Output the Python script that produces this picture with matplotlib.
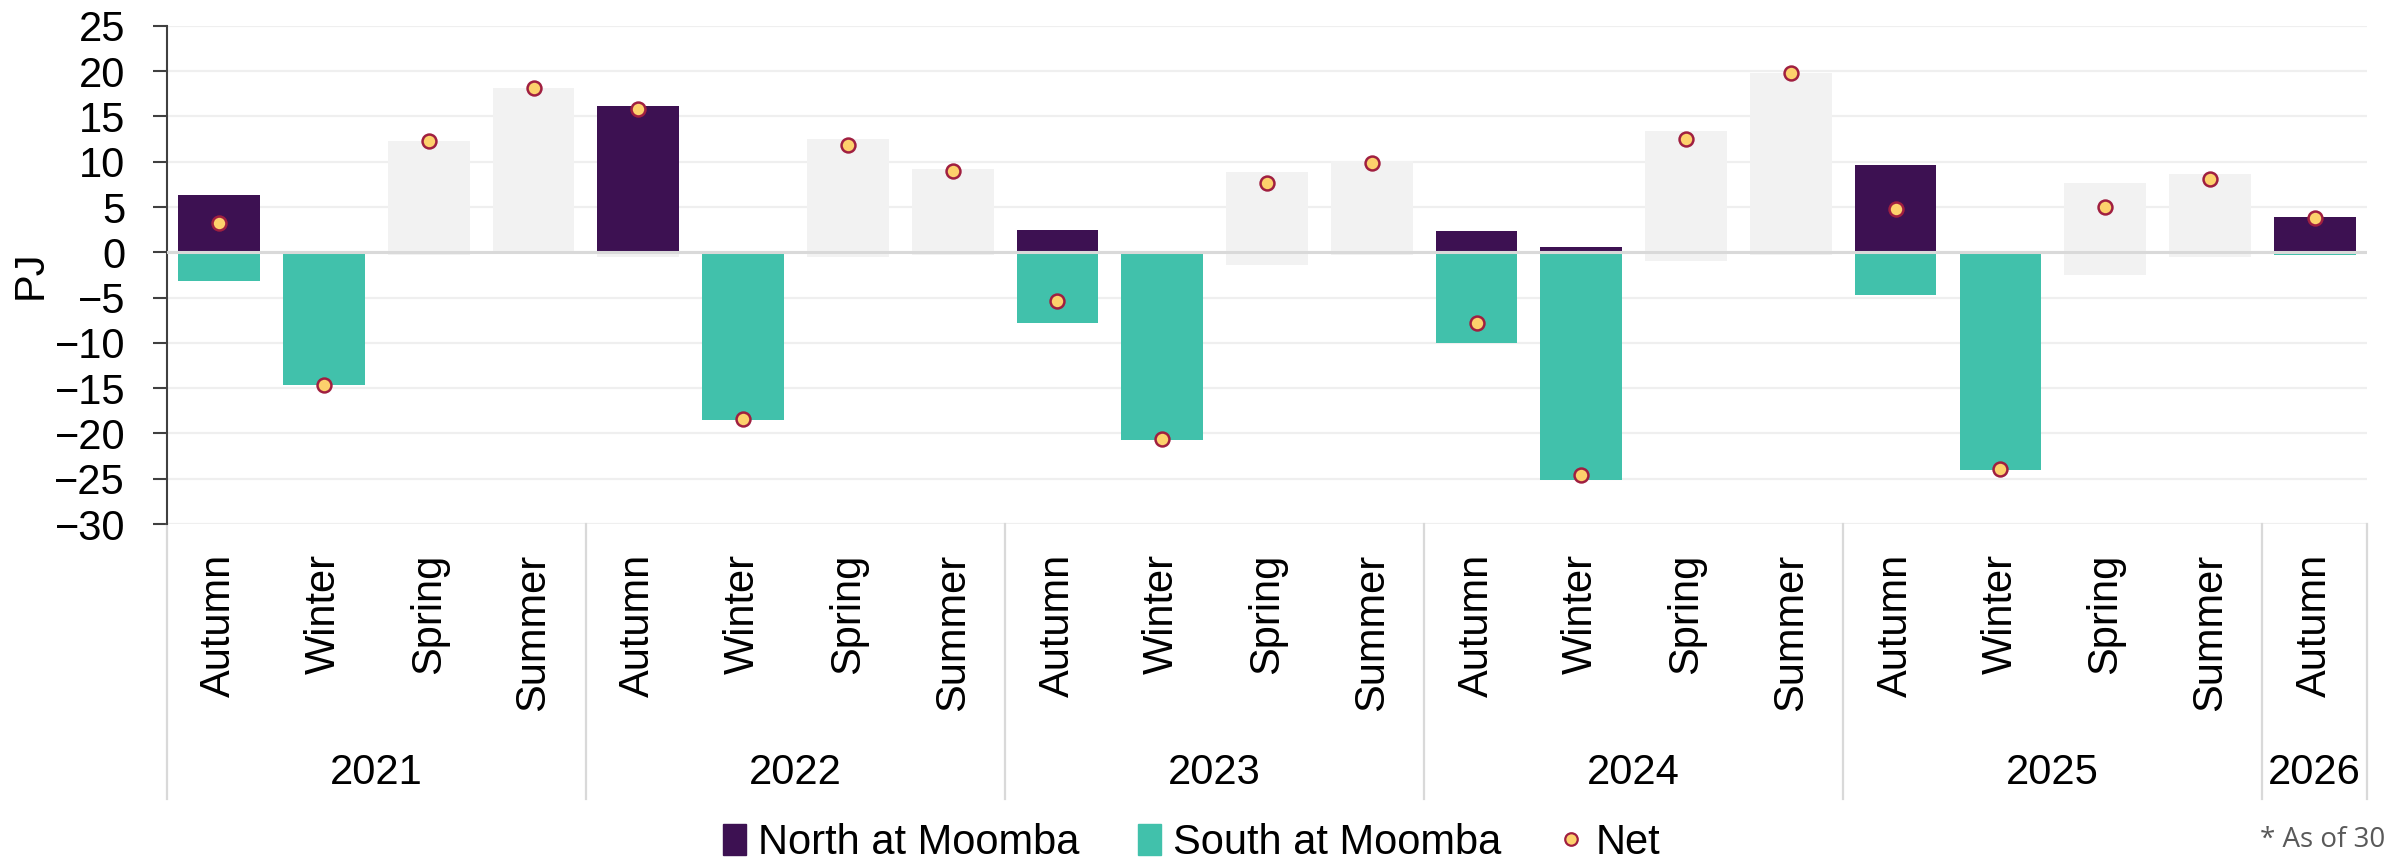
import matplotlib.pyplot as plt
from matplotlib.patches import Patch
from matplotlib.lines import Line2D
from matplotlib.transforms import blended_transform_factory

plt.rcParams["font.family"] = ["Liberation Sans", "DejaVu Sans"]

# seasonal flows at Moomba (PJ)
years        = ["2021", "2022", "2023", "2024", "2025", "2026"]
year_seasons = [4, 4, 4, 4, 4, 1]
seasons      = ["Autumn", "Winter", "Spring", "Summer"] * 5 + ["Autumn"]

north = [6.3, 0.0, 12.3, 18.2,
         16.2, 0.0, 12.5, 9.15,
         2.5, 0.0, 8.9, 10.05,
         2.3, 0.55, 13.35, 19.85,
         9.6, 0.0, 7.6, 8.7,
         3.85]
south = [-3.2, -14.7, -0.35, 0.0,
         -0.5, -18.5, -0.5, -0.35,
         -7.85, -20.7, -1.4, -0.35,
         -10.05, -25.1, -1.0, -0.35,
         -4.75, -24.0, -2.55, -0.55,
         -0.35]
net = [3.25, -14.6, 12.3, 18.1,
       15.85, -18.4, 11.85, 9.0,
       -5.35, -20.6, 7.65, 9.9,
       -7.8, -24.6, 12.5, 19.85,
       4.8, -23.9, 5.0, 8.1,
       3.75]

C_NORTH = "#3d1152"
C_SOUTH = "#41c1ab"
C_GREY  = "#f2f2f2"
C_NET_FACE = "#fdd16c"
C_NET_EDGE = "#a01f40"


def main():
    fig = plt.figure(figsize=(23.84, 8.64), dpi=100)
    ax = fig.add_axes([0.070, 0.3935, 0.9229, 0.5765])

    x = list(range(len(seasons)))
    shoulder = [s in ("Spring", "Summer") for s in seasons]
    north_colors = [C_GREY if sh else C_NORTH for sh in shoulder]
    south_colors = [C_GREY if sh else C_SOUTH for sh in shoulder]
    south_colors[4] = C_GREY  # 2022 autumn south flow is greyed out

    ax.bar(x, north, width=0.78, color=north_colors, zorder=2)
    ax.bar(x, south, width=0.78, color=south_colors, zorder=2)
    ax.axhline(0, color="#d9d9d9", lw=2.2, zorder=3)
    ax.plot(x, net, "o", ls="none", ms=10, mfc=C_NET_FACE, mec=C_NET_EDGE,
            mew=1.8, zorder=5)

    ax.set_xlim(-0.5, len(seasons) - 0.5)
    ax.set_ylim(-30, 25)
    ax.set_yticks(range(-30, 26, 5))
    ax.yaxis.grid(True, color="#efefef", lw=1.6, zorder=0)
    ax.set_axisbelow(True)
    ax.tick_params(axis="y", labelsize=30, length=10, width=1.5,
                   color="#404040", pad=20)
    ax.tick_params(axis="x", bottom=False, labelbottom=False)
    for side in ("top", "right", "bottom"):
        ax.spines[side].set_visible(False)
    ax.spines["left"].set_color("#404040")
    ax.spines["left"].set_linewidth(1.5)
    ax.set_ylabel("PJ", fontsize=30)
    ax.yaxis.set_label_coords(-0.053, 0.5)

    # two-level category axis: seasons and years
    trans = blended_transform_factory(ax.transData, ax.transAxes)
    for xi, s in zip(x, seasons):
        ax.text(xi, -0.06, s, transform=trans, rotation=90, ha="center",
                va="top", fontsize=30)
    start = 0
    bounds = [-0.5]
    for yr, n in zip(years, year_seasons):
        ax.text(start + (n - 1) / 2, -0.50, yr, transform=trans,
                ha="center", va="center", fontsize=30)
        start += n
        bounds.append(start - 0.5)
    for b in bounds:
        ax.plot([b, b], [0, -0.553], transform=trans, color="#d9d9d9",
                lw=1.6, clip_on=False)

    handles = [
        Patch(color=C_NORTH, label="North at Moomba"),
        Patch(color=C_SOUTH, label="South at Moomba"),
        Line2D([], [], marker="o", ls="none", ms=9, mfc=C_NET_FACE,
               mec=C_NET_EDGE, mew=1.6, label="Net"),
    ]
    fig.legend(handles=handles, loc="center", bbox_to_anchor=(0.4997, 0.0243),
               ncol=3, frameon=False, fontsize=30, handlelength=0.55,
               handleheight=0.75, handletextpad=0.3, columnspacing=1.4)
    fig.text(0.948, 0.0275, "* As of 30", fontsize=20, color="#595959",
             va="center", ha="left", family=["Open Sans", "DejaVu Sans"])

    fig.savefig("out.png")


if __name__ == "__main__":
    main()
